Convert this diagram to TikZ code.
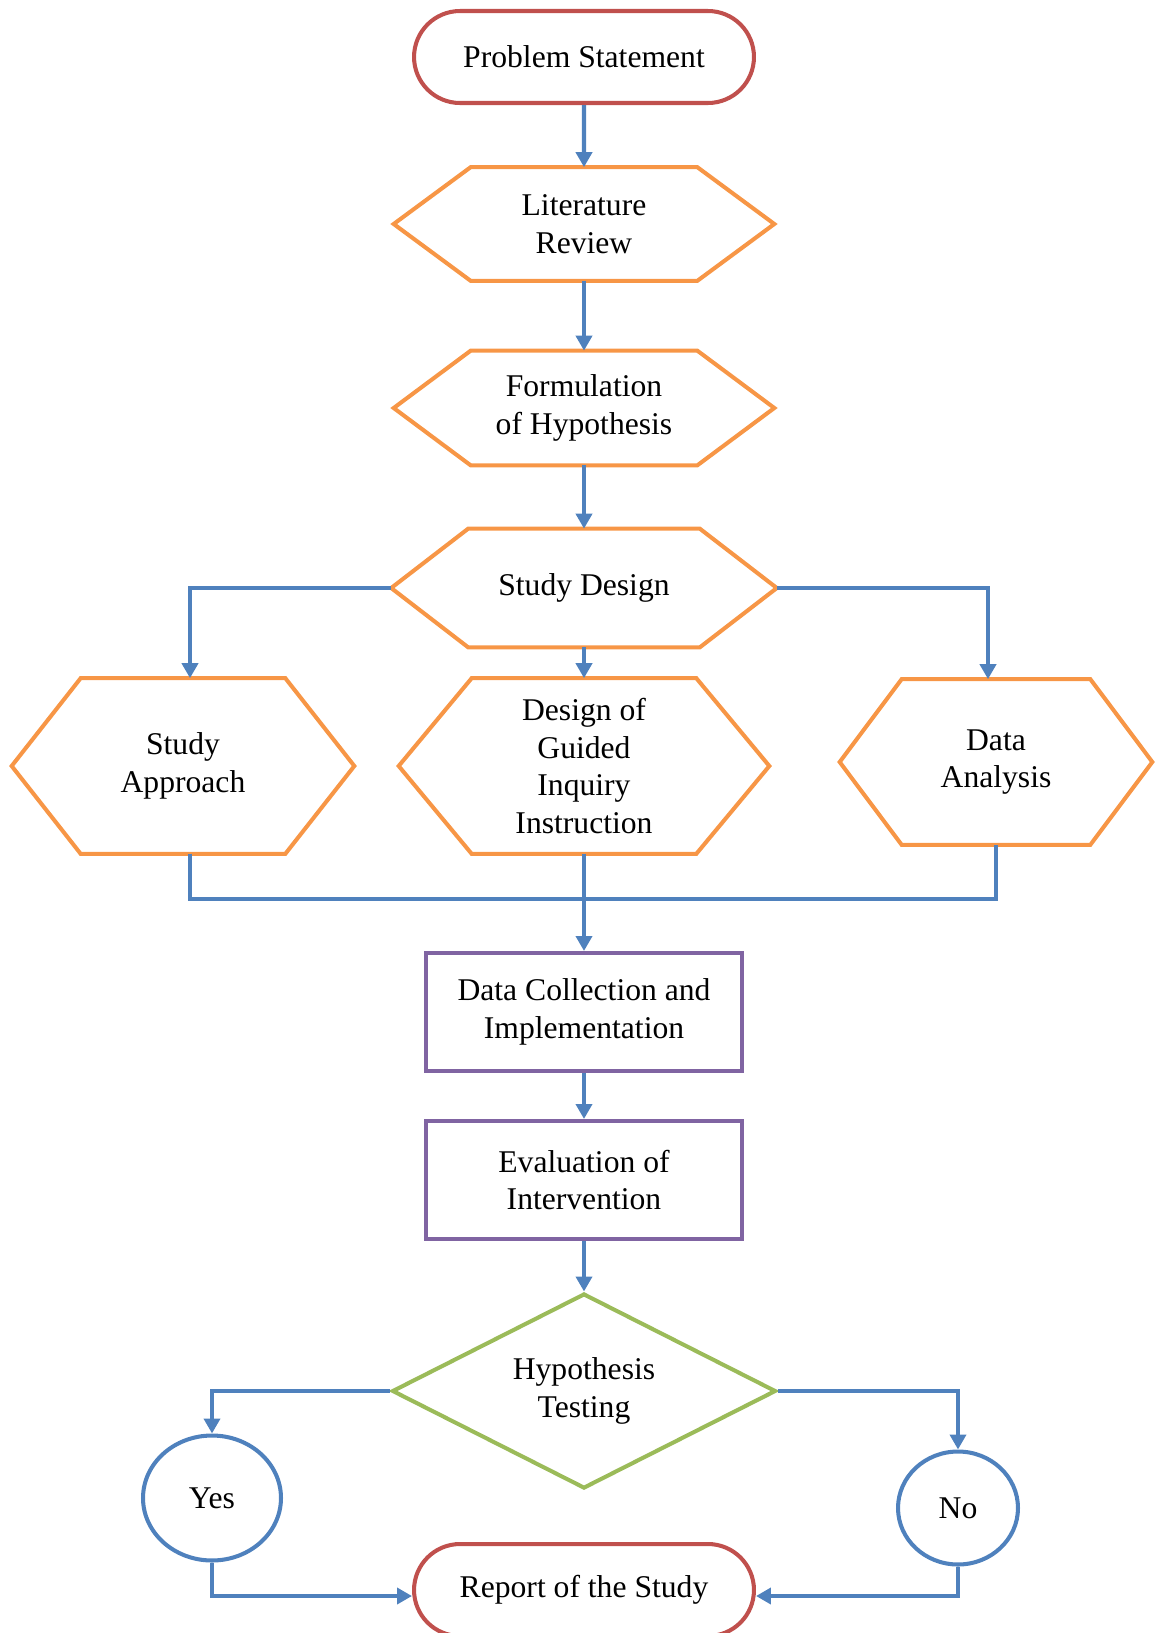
\documentclass[tikz,border=0pt]{standalone}
\usepackage{fontspec}
\setmainfont{Liberation Serif}
\usetikzlibrary{arrows.meta, positioning, shapes.geometric, shapes.misc, calc}

\definecolor{redline}{HTML}{C0504D}
\definecolor{orangeline}{HTML}{F79646}
\definecolor{purpleline}{HTML}{8064A2}
\definecolor{greenline}{HTML}{9BBB59}
\definecolor{blueline}{HTML}{4F81BD}

\begin{document}
\begin{tikzpicture}[
                x=0.02cm, y=-0.02cm,
                every node/.style={align=center, inner sep=0pt, font=\fontsize{18}{21.5}\selectfont},
                terminal/.style={draw=redline, line width=2.3pt, rounded rectangle, minimum width=6.8cm, minimum height=1.84cm},
                hexbox/.style={rectangle},
                hexline/.style={draw=orangeline, line width=2.3pt},
                stepbox/.style={draw=purpleline, line width=2.3pt, rectangle, minimum width=6.32cm, minimum height=2.36cm},
                decision/.style={draw=greenline, line width=2.3pt, diamond, aspect=2, minimum width=7.68cm, minimum height=3.9cm},
                answer/.style={draw=blueline, line width=2.3pt, ellipse},
                link/.style={draw=blueline, line width=2.4pt},
                arrow/.style={link, -{Triangle[length=0.3cm, width=0.32cm]}}]

            \useasboundingbox (0,0) rectangle (1155,1633);

            % Noeuds
            \node[terminal] (problem) at (584,57) {Problem Statement};
            \node[hexbox, minimum width=7.6cm, minimum height=2.26cm] (lit) at (584,224) {Literature\\Review};
            \node[hexbox, minimum width=7.6cm, minimum height=2.28cm] (form) at (584,408) {Formulation\\of Hypothesis};
            \node[hexbox, minimum width=7.7cm, minimum height=2.36cm] (design) at (584,588) {Study Design};
            \node[hexbox, minimum width=6.84cm, minimum height=3.5cm] (appr) at (183,766) {Study\\Approach};
            \node[hexbox, minimum width=7.4cm, minimum height=3.5cm] (guid) at (584,766) {Design of\\Guided\\Inquiry\\Instruction};
            \node[hexbox, minimum width=6.24cm, minimum height=3.3cm] (anal) at (996,762) {Data\\Analysis};
            \node[stepbox] (coll) at (584,1012) {Data Collection and\\Implementation};
            \node[stepbox] (eval) at (584,1180) {Evaluation of\\Intervention};
            \node[decision] (hyp) at (584,1391) {Hypothesis\\Testing};
            \node[answer, minimum width=2.76cm, minimum height=2.5cm] (yes) at (212,1498) {Yes};
            \node[answer, minimum width=2.4cm, minimum height=2.26cm] (no) at (958,1508) {No};
            \node[terminal] (report) at (584,1590) {Report of the Study};

            % Hexagones
            \foreach \n/\d in {lit/77, form/77, design/77, appr/69, guid/73, anal/62}
                \draw[hexline] (\n.west) -- ($(\n.north west)+(\d,0)$) -- ($(\n.north east)-(\d,0)$)
                    -- (\n.east) -- ($(\n.south east)-(\d,0)$) -- ($(\n.south west)+(\d,0)$) -- cycle;

            % Fleches
            \draw[arrow] (problem) -- (lit);
            \draw[arrow] (lit) -- (form);
            \draw[arrow] (form) -- (design);
            \draw[arrow] (design.west) -| ([xshift=0.14cm]appr.north);
            \draw[arrow] (design) -- (guid);
            \draw[arrow] (design.east) -| ([xshift=-0.16cm]anal.north);

            \coordinate (join) at (584,899);
            \draw[link] ([xshift=0.14cm]appr.south) |- (join) -| (anal.south);
            \draw[arrow] (guid) -- (coll);
            \draw[arrow] (coll) -- (eval);
            \draw[arrow] (eval) -- (hyp);

            \draw[arrow] (hyp.west) -| (yes.north);
            \draw[arrow] (hyp.east) -| (no.north);
            \draw[arrow] (yes.south) |- ([yshift=-0.12cm]report.west);
            \draw[arrow] (no.south) |- ([yshift=-0.12cm]report.east);

        \end{tikzpicture}
\end{document}
